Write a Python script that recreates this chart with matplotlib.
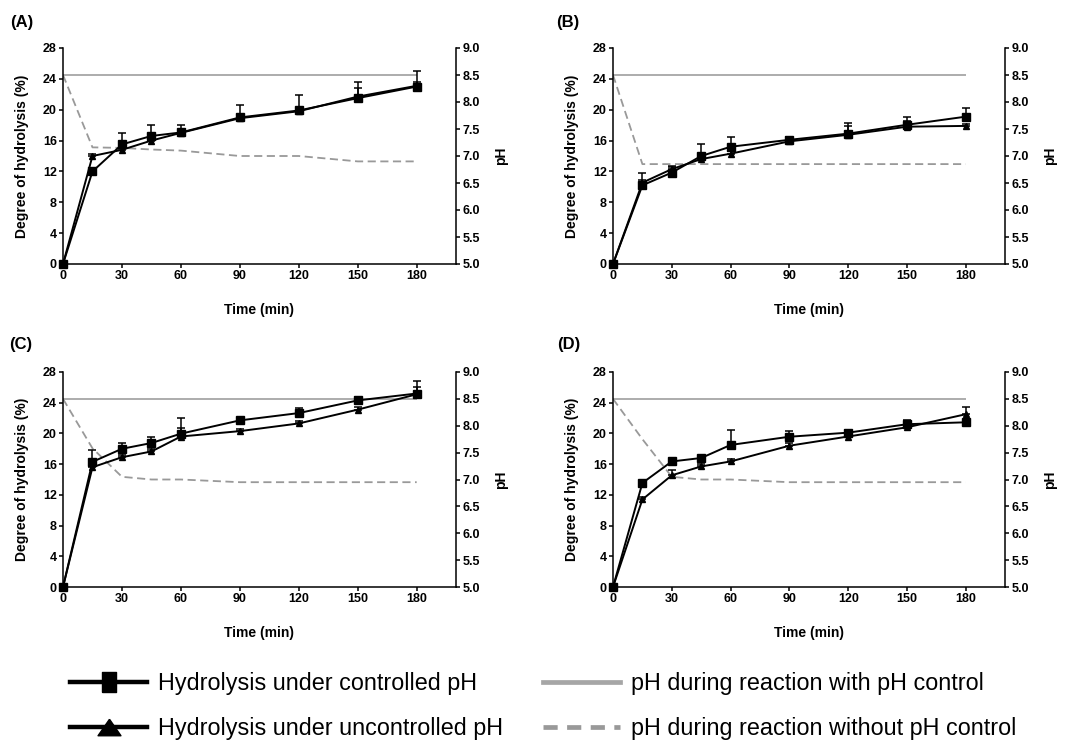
import matplotlib
matplotlib.use("Agg")
import matplotlib.pyplot as plt
from matplotlib.lines import Line2D
import numpy as np

plt.rcParams['font.family'] = ['Liberation Sans', 'DejaVu Sans']

# ---------------- data ----------------
time_min = [0, 15, 30, 45, 60, 90, 120, 150, 180]
x_ticks = [0, 30, 60, 90, 120, 150, 180]
dh_ticks = [0, 4, 8, 12, 16, 20, 24, 28]
ph_ticks = [5.0, 5.5, 6.0, 6.5, 7.0, 7.5, 8.0, 8.5, 9.0]
panel_labels = ["(A)", "(B)", "(C)", "(D)"]

ph_controlled = [8.5, 8.5, 8.5, 8.5, 8.5, 8.5, 8.5, 8.5, 8.5]

A_ctrl = [0, 12.0, 15.5, 16.6, 17.05, 19.0, 19.9, 21.5, 23.0]
A_ctrl_err = [0, 0.3, 1.5, 1.45, 1.0, 1.65, 2.0, 2.1, 2.0]
A_unctrl = [0, 14.0, 14.8, 16.0, 17.0, 18.9, 19.8, 21.7, 23.1]
A_unctrl_err = [0, 0.2, 0.3, 0.3, 0.3, 0.3, 0.3, 1.1, 0.5]
A_ph = [8.5, 7.16, 7.15, 7.12, 7.1, 7.0, 7.0, 6.9, 6.9]

B_ctrl = [0, 10.2, 11.85, 14.0, 15.2, 16.1, 16.9, 18.05, 19.1]
B_ctrl_err = [0, 1.6, 0.85, 1.6, 1.25, 0.3, 1.4, 1.0, 1.1]
B_unctrl = [0, 10.55, 12.3, 13.6, 14.3, 15.9, 16.75, 17.8, 17.9]
B_unctrl_err = [0, 0.3, 0.3, 0.3, 0.3, 0.3, 1.1, 0.8, 0.3]
B_ph = [8.5, 6.85, 6.85, 6.85, 6.85, 6.85, 6.85, 6.85, 6.85]

C_ctrl = [0, 16.3, 18.0, 18.75, 19.97, 21.7, 22.65, 24.3, 25.2]
C_ctrl_err = [0, 1.6, 0.8, 0.85, 2.1, 0.3, 0.7, 0.5, 1.6]
C_unctrl = [0, 15.6, 16.9, 17.65, 19.6, 20.3, 21.3, 23.1, 25.1]
C_unctrl_err = [0, 0.3, 0.3, 0.3, 1.1, 0.3, 0.3, 0.3, 0.9]
C_ph = [8.5, 7.58, 7.05, 7.0, 7.0, 6.95, 6.95, 6.95, 6.95]

D_ctrl = [0, 13.55, 16.35, 16.8, 18.5, 19.57, 20.1, 21.2, 21.45]
D_ctrl_err = [0, 0.2, 0.3, 0.3, 2.0, 0.8, 0.3, 0.6, 0.3]
D_unctrl = [0, 11.4, 14.55, 15.7, 16.35, 18.4, 19.6, 20.8, 22.5]
D_unctrl_err = [0, 0.3, 0.65, 0.3, 0.3, 0.3, 0.3, 0.3, 1.0]
D_ph = [8.5, 7.75, 7.05, 7.0, 7.0, 6.95, 6.95, 6.95, 6.95]

legend_labels = ["Hydrolysis under controlled pH",
                 "Hydrolysis under uncontrolled pH",
                 "pH during reaction with pH control",
                 "pH during reaction without pH control"]

panels = [
    (A_ctrl, A_ctrl_err, A_unctrl, A_unctrl_err, A_ph),
    (B_ctrl, B_ctrl_err, B_unctrl, B_unctrl_err, B_ph),
    (C_ctrl, C_ctrl_err, C_unctrl, C_unctrl_err, C_ph),
    (D_ctrl, D_ctrl_err, D_unctrl, D_unctrl_err, D_ph),
]

# ---------------- layout (pixels) ----------------
W, H = 1068, 742
fig = plt.figure(figsize=(W / 100, H / 100), dpi=100)
fig.patch.set_facecolor("white")

# left, right, top, bottom in pixels
boxes = [(63, 456, 48, 264), (613, 1005, 48, 264),
         (63, 456, 372, 587), (613, 1005, 372, 587)]
label_pos = [(10, 22), (556, 22), (9, 345), (557, 345)]

GRAY_SOLID = "#a6a6a6"
GRAY_DASH = "#999999"
TICK_FS = 9
LABEL_FS = 10

for i, (ctrl, ctrl_err, unc, unc_err, ph) in enumerate(panels):
    l, r, t, b = boxes[i]
    ax = fig.add_axes([l / W, 1 - b / H, (r - l) / W, (b - t) / H])
    ax2 = ax.twinx()
    ax2.set_zorder(ax.get_zorder() - 1)
    ax.patch.set_visible(False)

    # pH lines
    ax2.plot(time_min, ph_controlled, color=GRAY_SOLID, lw=1.3, solid_capstyle="butt")
    ax2.plot(time_min, ph, color=GRAY_DASH, lw=1.3, dashes=(4.5, 2.5))
    ax2.set_ylim(5.0, 9.0)
    ax2.set_yticks(ph_ticks)
    ax2.set_yticklabels([f"{v:.1f}" for v in ph_ticks])
    ax2.set_ylabel("pH", fontsize=LABEL_FS, fontweight="bold", rotation=90, labelpad=10)

    # hydrolysis series with upper error bars
    zeros = [0] * len(time_min)
    ax.errorbar(time_min, unc, yerr=[zeros, unc_err], color="black", lw=1.4,
                marker="^", markersize=4.8, capsize=2.6, elinewidth=1.1,
                capthick=1.1, clip_on=False, zorder=3)
    ax.errorbar(time_min, ctrl, yerr=[zeros, ctrl_err], color="black", lw=1.4,
                marker="s", markersize=5.2, capsize=2.6, elinewidth=1.1,
                capthick=1.1, clip_on=False, zorder=4)

    ax.set_xlim(0, 200)
    ax.set_ylim(0, 28)
    ax.set_xticks(x_ticks)
    ax.set_yticks(dh_ticks)
    ax.set_xlabel("Time (min)", fontsize=LABEL_FS, fontweight="bold", labelpad=15)
    ax.set_ylabel("Degree of hydrolysis (%)", fontsize=LABEL_FS, fontweight="bold", labelpad=10)

    for a in (ax, ax2):
        a.spines["top"].set_visible(False)
        for s in a.spines.values():
            s.set_linewidth(1.1)
        a.tick_params(direction="out", length=3, width=1.1, labelsize=TICK_FS, pad=1.5)
        for lab in a.get_xticklabels() + a.get_yticklabels():
            lab.set_fontweight("bold")
    ax.spines["right"].set_visible(False)
    ax2.spines["left"].set_visible(False)
    ax2.spines["bottom"].set_visible(False)

    lx, ly = label_pos[i]
    fig.text(lx / W, 1 - ly / H, panel_labels[i], fontsize=12, fontweight="bold",
             ha="left", va="center")

# ---------------- legend ----------------
tall_rect = [(-0.65, -1), (0.65, -1), (0.65, 1), (-0.65, 1), (-0.65, -1)]
wide_tri = [(0, 0.72), (-1, -0.72), (1, -0.72), (0, 0.72)]
h_ctrl = Line2D([], [], color="black", lw=3.2, marker=tall_rect, markersize=14.5)
h_unc = Line2D([], [], color="black", lw=3.2, marker=wide_tri, markersize=16.5)
h_phc = Line2D([], [], color=GRAY_SOLID, lw=3.4)
h_phu = Line2D([], [], color=GRAY_DASH, lw=3.4, dashes=(3, 2))

leg_kw = dict(frameon=False, fontsize=16.8, handlelength=3.3, handletextpad=0.47,
              labelspacing=0.95, borderpad=0, borderaxespad=0, loc="upper left")
fig.legend([h_ctrl, h_unc], legend_labels[:2],
           bbox_to_anchor=(70 / W, 1 - 672 / H), **leg_kw)
fig.legend([h_phc, h_phu], legend_labels[2:],
           bbox_to_anchor=(543 / W, 1 - 672 / H), **leg_kw)

fig.savefig("out.png", dpi=100, facecolor="white")
